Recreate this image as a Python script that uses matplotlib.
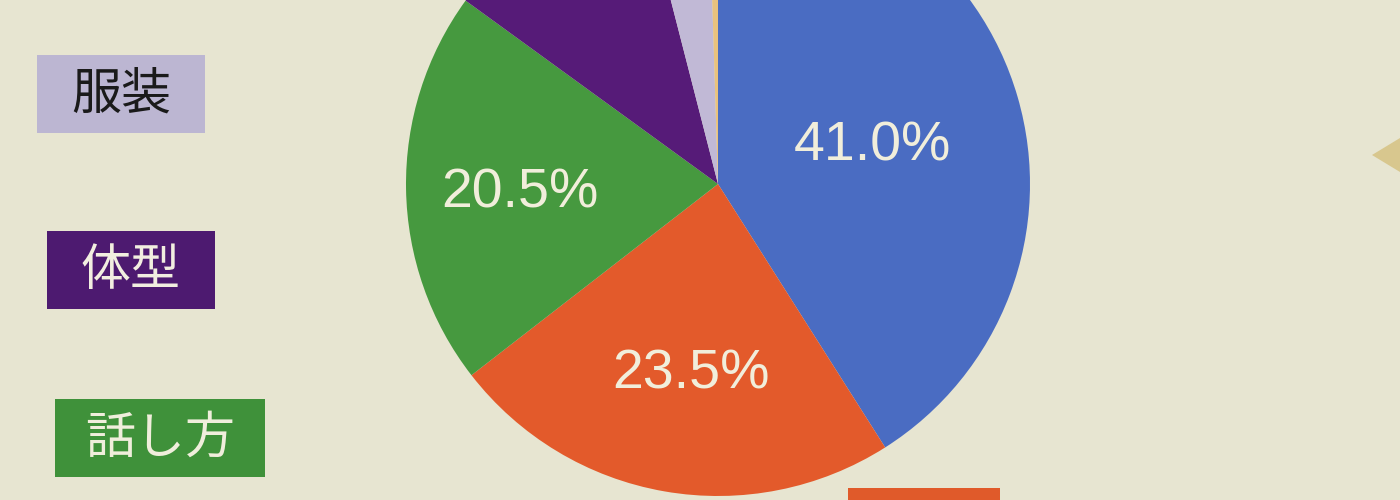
import numpy as np
import matplotlib.pyplot as plt
from matplotlib.patches import Rectangle, Polygon

plt.rcParams['font.family'] = ['Noto Sans CJK JP', 'DejaVu Sans']

# slice data, clockwise from 12 o'clock
shares = [41.0, 23.5, 20.5, 11.0, 3.5, 0.5]
colors = ['#4a6cc2', '#e35a2b', '#46993f', '#561b78', '#c1b9d6', '#e9c27e']
shown = [True, True, True, False, False, False]
lbl_dist = [0.5, 0.6, 0.65, 0.6, 0.6, 0.6]

# legend boxes on the left (only part of it is in view)
legend_names = ['服装', '体型', '話し方']
legend_colors = ['#bcb6d2', '#4d1a70', '#3f913a']
legend_text_colors = ['#1a1a1a', '#f2eee0', '#f0eedc']

bg = '#e7e5d1'
fig = plt.figure(figsize=(14, 5), dpi=100, facecolor=bg)
ax = fig.add_axes([0, 0, 1, 1])

cx, cy, R = 718, 316, 312
wedges, _ = ax.pie(shares, colors=colors, startangle=90, counterclock=False,
                   center=(cx, cy), radius=R, frame=True,
                   wedgeprops=dict(linewidth=0))
ax.set_xlim(0, 1400)
ax.set_ylim(0, 500)
ax.set_aspect('equal')
ax.axis('off')

for w, s, on, d in zip(wedges, shares, shown, lbl_dist):
    if not on:
        continue
    a = np.deg2rad((w.theta1 + w.theta2) / 2)
    ax.text(cx + d * R * np.cos(a) + 5, cy + d * R * np.sin(a), f'{s:.1f}%',
            ha='center', va='center_baseline', color='#f1eedb', fontsize=40,
            family=['Liberation Sans', 'DejaVu Sans'])

# legend labels
box_x = [37, 47, 55]
box_w = [168, 168, 210]
box_y = [367, 191, 23]
for name, c, tc, x, w, y in zip(legend_names, legend_colors, legend_text_colors,
                               box_x, box_w, box_y):
    ax.add_patch(Rectangle((x, y), w, 78, facecolor=c, edgecolor='none'))
    ax.text(x + w / 2, y + 38, name, ha='center', va='center', fontsize=36,
            color=tc)

# orange label box, cut off at the bottom edge
ax.add_patch(Rectangle((848, -20), 152, 32, facecolor='#e05a2a', edgecolor='none'))

# pointer at right edge
ax.add_patch(Polygon([[1372, 345], [1400, 362], [1400, 328]], closed=True,
                     facecolor='#d8c78e', edgecolor='none'))

fig.savefig('out.png', dpi=100, facecolor=bg)
